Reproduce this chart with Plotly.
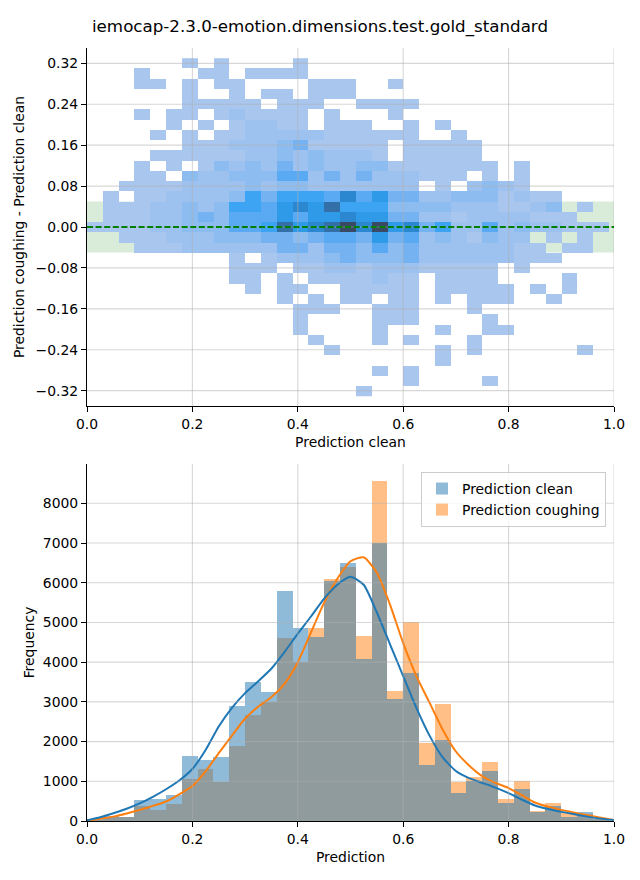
import plotly.graph_objects as go

# ---------------- data ----------------
title_text = "iemocap-2.3.0-emotion.dimensions.test.gold_standard"

# 2D histogram (top): bin centers and per-cell intensity levels (0 = empty, 1..a = light..dark)
heat_x = [0.015, 0.045, 0.075, 0.105, 0.135, 0.165, 0.195, 0.225, 0.255, 0.285, 0.315,
          0.345, 0.375, 0.405, 0.435, 0.465, 0.495, 0.525, 0.555, 0.585, 0.615, 0.645,
          0.675, 0.705, 0.735, 0.765, 0.795, 0.825, 0.855, 0.885, 0.915, 0.945, 0.975]
heat_y = [0.32, 0.30, 0.28, 0.26, 0.24, 0.22, 0.20, 0.18, 0.16, 0.14, 0.12, 0.10, 0.08,
          0.06, 0.04, 0.02, 0.00, -0.02, -0.04, -0.06, -0.08, -0.10, -0.12, -0.14, -0.16,
          -0.18, -0.20, -0.22, -0.24, -0.26, -0.28, -0.30, -0.32]
heat_rows = [
    "0000001010" "0001000000" "0000000000" "000",
    "0001000110" "1111000000" "0000000000" "000",
    "0001101011" "0000111001" "0000000000" "000",
    "0000001001" "0110111000" "0000000000" "000",
    "0000001111" "1011100111" "1000000000" "000",
    "0001011012" "1111010001" "0000000000" "000",
    "0000010101" "2211011100" "1010000000" "000",
    "0000101011" "2222211111" "1001000000" "000",
    "0000001112" "2234111110" "1111100000" "000",
    "0000111111" "2232322210" "1111100000" "000",
    "0001010132" "3242322331" "1111110100" "000",
    "0001103223" "3355242422" "2111010100" "000",
    "0011112222" "3233222222" "2010232100" "000",
    "0101122223" "6466658574" "4223331211" "000",
    "0111223236" "6578796663" "3332221123" "010",
    "0111223435" "5575778774" "4221222211" "100",
    "1111223335" "569789a8a7" "8462252322" "111",
    "0011122233" "3443455474" "5232132201" "010",
    "0001112222" "2244244353" "4222222110" "110",
    "0000000001" "0122234333" "4222222111" "000",
    "0000000001" "1101122122" "2111110100" "000",
    "0000000001" "1010111121" "1011110000" "100",
    "0000000000" "1011001111" "1011111010" "100",
    "0000000000" "0010101101" "1010111001" "000",
    "0000000000" "0001110011" "1000100000" "000",
    "0000000000" "0001000011" "1000010000" "000",
    "0000000000" "0001000010" "0010011000" "000",
    "0000000000" "0000100010" "1000100000" "000",
    "0000000000" "0000010000" "0010100000" "010",
    "0000000000" "0000000000" "0010000000" "000",
    "0000000000" "0000000010" "1000000000" "000",
    "0000000000" "0000000000" "1000010000" "000",
    "0000000000" "0000000100" "0000000000" "000",
]
tolerance_band = 0.05
reference_value = 0.0

# bottom histograms
hist_centers = heat_x
hist_clean = [40, 120, 100, 530, 560, 650, 1640, 1540, 1620, 2900, 3500, 3250, 5780, 4870,
              4640, 6050, 6500, 4090, 6990, 3080, 3730, 1410, 2040, 715, 1010, 1260, 455,
              810, 235, 380, 95, 230, 60]
hist_cough = [30, 100, 90, 380, 280, 430, 1050, 1320, 970, 1880, 2680, 2990, 4620, 4010,
              4870, 6100, 6400, 4670, 8560, 3280, 5020, 1960, 2950, 985, 1110, 1490, 555,
              1010, 240, 450, 195, 180, 40]

kde_x = [0.0, 0.025, 0.05, 0.075, 0.10, 0.125, 0.15, 0.175, 0.20, 0.225, 0.25, 0.275,
         0.30, 0.325, 0.35, 0.375, 0.40, 0.425, 0.45, 0.475, 0.50, 0.525, 0.55, 0.575,
         0.60, 0.625, 0.65, 0.675, 0.70, 0.725, 0.75, 0.775, 0.80, 0.825, 0.85, 0.875,
         0.90, 0.925, 0.95, 0.975, 1.0]
kde_clean = [20, 95, 195, 310, 445, 610, 800, 1020, 1310, 1790, 2380, 2850,
             3220, 3520, 3840, 4260, 4720, 5150, 5600, 5950, 6150, 5950, 5250, 4450,
             3650, 2850, 2150, 1600, 1260, 1080, 960, 840, 700, 540, 390, 300,
             230, 170, 110, 60, 25]
kde_cough = [15, 55, 110, 190, 280, 380, 490, 670, 880, 1250, 1710, 2150,
             2580, 2880, 3120, 3460, 4000, 4750, 5500, 6100, 6540, 6640, 6250, 5450,
             4480, 3650, 2980, 2300, 1750, 1400, 1130, 960, 830, 650, 465, 360,
             280, 210, 145, 80, 25]

# axis tick values (used for ticks and grid lines)
top_xticks = [0.0, 0.2, 0.4, 0.6, 0.8, 1.0]
top_yticks = [-0.32, -0.24, -0.16, -0.08, 0.0, 0.08, 0.16, 0.24, 0.32]
bot_xticks = [0.0, 0.2, 0.4, 0.6, 0.8, 1.0]
bot_yticks = [0, 1000, 2000, 3000, 4000, 5000, 6000, 7000, 8000]

# ---------------- figure ----------------
z = [[(int(ch, 16) if ch != "0" else None) for ch in row] for row in heat_rows]

cmap = [
    [0.000, "#a9c6ee"], [0.111, "#9dc2ef"], [0.222, "#8cbcf0"], [0.333, "#75b2f2"],
    [0.444, "#5aa9f3"], [0.556, "#3da4f4"], [0.667, "#2e9ae8"], [0.778, "#2b88d0"],
    [0.889, "#3470a8"], [1.000, "#3a4a64"],
]

FONT = "DejaVu Sans"
FS = 13.9
GRIDC = "rgba(176,176,176,0.5)"

fig = go.Figure()
fig.add_trace(go.Heatmap(
    x=heat_x, y=heat_y, z=z, colorscale=cmap, zmin=1, zmax=10,
    showscale=False, hoverinfo="skip", xaxis="x", yaxis="y", xgap=0, ygap=0,
))

fig.add_trace(go.Bar(
    x=hist_centers, y=hist_cough, width=0.03, name="Prediction coughing",
    marker=dict(color="rgba(255,127,14,0.5)", line=dict(width=0)),
    xaxis="x2", yaxis="y2", legendrank=2,
))
fig.add_trace(go.Bar(
    x=hist_centers, y=hist_clean, width=0.03, name="Prediction clean",
    marker=dict(color="rgba(31,119,180,0.5)", line=dict(width=0)),
    xaxis="x2", yaxis="y2", legendrank=1,
))
fig.add_trace(go.Scatter(
    x=kde_x, y=kde_cough, mode="lines", line=dict(color="#ff7f0e", width=2, shape="spline", smoothing=0.6),
    showlegend=False, xaxis="x2", yaxis="y2", hoverinfo="skip",
))
fig.add_trace(go.Scatter(
    x=kde_x, y=kde_clean, mode="lines", line=dict(color="#1f77b4", width=2, shape="spline", smoothing=0.6),
    showlegend=False, xaxis="x2", yaxis="y2", hoverinfo="skip",
))

fig.add_shape(type="rect", xref="x", yref="y", x0=0, x1=1,
              y0=reference_value - tolerance_band, y1=reference_value + tolerance_band,
              fillcolor="rgba(0,128,0,0.15)", line=dict(width=0), layer="below")

# grid lines drawn above the marks (as in the reference)
for xv in top_xticks[1:]:
    fig.add_shape(type="line", xref="x", yref="y domain", x0=xv, x1=xv, y0=0, y1=1,
                  line=dict(color=GRIDC, width=1.1), layer="above")
for yv in top_yticks:
    fig.add_shape(type="line", xref="x domain", yref="y", x0=0, x1=1, y0=yv, y1=yv,
                  line=dict(color=GRIDC, width=1.1), layer="above")
for xv in bot_xticks[1:]:
    fig.add_shape(type="line", xref="x2", yref="y2 domain", x0=xv, x1=xv, y0=0, y1=1,
                  line=dict(color=GRIDC, width=1.1), layer="above")
for yv in bot_yticks[1:]:
    fig.add_shape(type="line", xref="x2 domain", yref="y2", x0=0, x1=1, y0=yv, y1=yv,
                  line=dict(color=GRIDC, width=1.1), layer="above")

fig.add_shape(type="line", xref="x", yref="y", x0=0, x1=1,
              y0=reference_value, y1=reference_value,
              line=dict(color="green", width=2.2, dash="6px,2.6px"), layer="above")

axis_common = dict(
    showgrid=False, zeroline=False,
    showline=True, linecolor="black", linewidth=1.1, mirror=False,
    ticks="outside", ticklen=5, tickwidth=1.1, tickcolor="black",
    tickfont=dict(family=FONT, size=FS, color="black"),
)

top_dom = [(821 - 406) / 773, 1.0]
bot_dom = [0.0, (821 - 464) / 773]

fig.update_layout(
    width=640, height=880,
    margin=dict(l=87, r=26, t=48, b=59),
    paper_bgcolor="white", plot_bgcolor="white",
    font=dict(family=FONT, size=FS, color="black"),
    barmode="overlay", bargap=0,
    title=dict(text=title_text, x=0.5, xref="container", xanchor="center",
               y=1 - 26 / 880, yanchor="middle", yref="container",
               font=dict(family=FONT, size=16.7, color="black")),
    xaxis=dict(domain=[0, 1], anchor="y", range=[0, 1], tickvals=top_xticks,
               tickformat=".1f",
               title=dict(text="Prediction clean", font=dict(family=FONT, size=FS), standoff=6),
               **axis_common),
    yaxis=dict(domain=top_dom, anchor="x", range=[-0.35, 0.35], tickvals=top_yticks,
               tickformat=".2f",
               title=dict(text="Prediction coughing - Prediction clean", font=dict(family=FONT, size=FS), standoff=7),
               **axis_common),
    xaxis2=dict(domain=[0, 1], anchor="y2", range=[0, 1], tickvals=bot_xticks,
                tickformat=".1f",
                title=dict(text="Prediction", font=dict(family=FONT, size=FS), standoff=6),
                **axis_common),
    yaxis2=dict(domain=bot_dom, anchor="x2", range=[0, 8990], tickvals=bot_yticks,
                tickformat="d",
                title=dict(text="Frequency", font=dict(family=FONT, size=FS), standoff=4),
                **axis_common),
    legend=dict(x=(606 - 87) / 527, xanchor="right", xref="paper",
                y=(821 - 472) / 773, yanchor="top", yref="paper",
                bgcolor="rgba(255,255,255,0.8)", bordercolor="#cccccc", borderwidth=1,
                font=dict(family=FONT, size=FS), traceorder="normal"),
    showlegend=True,
)

fig.write_html("out.html")
